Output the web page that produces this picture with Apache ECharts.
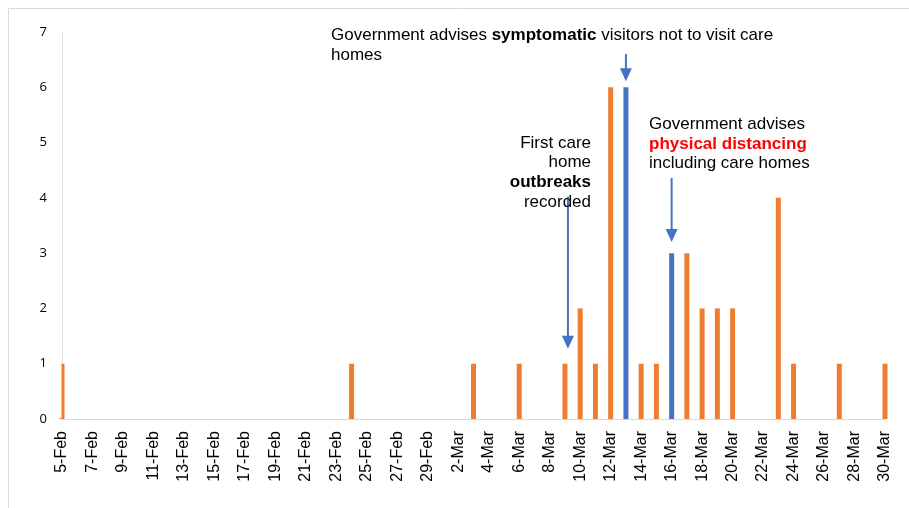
<!DOCTYPE html>
<html>
<head>
<meta charset="utf-8">
<script src="https://cdn.jsdelivr.net/npm/echarts@6/dist/echarts.min.js"></script>
<style>html,body{margin:0;padding:0;background:#fff}#c{width:909px;height:508px}</style>
</head>
<body>
<div id="c"></div>
<script>
const categories = ['5-Feb','6-Feb','7-Feb','8-Feb','9-Feb','10-Feb','11-Feb','12-Feb','13-Feb','14-Feb','15-Feb','16-Feb','17-Feb','18-Feb','19-Feb','20-Feb','21-Feb','22-Feb','23-Feb','24-Feb','25-Feb','26-Feb','27-Feb','28-Feb','29-Feb','1-Mar','2-Mar','3-Mar','4-Mar','5-Mar','6-Mar','7-Mar','8-Mar','9-Mar','10-Mar','11-Mar','12-Mar','13-Mar','14-Mar','15-Mar','16-Mar','17-Mar','18-Mar','19-Mar','20-Mar','21-Mar','22-Mar','23-Mar','24-Mar','25-Mar','26-Mar','27-Mar','28-Mar','29-Mar','30-Mar'];
const orangeValues = [1,0,0,0,0,0,0,0,0,0,0,0,0,0,0,0,0,0,0,1,0,0,0,0,0,0,0,1,0,0,1,0,0,1,2,1,6,0,1,1,0,3,2,2,2,0,0,4,1,0,0,1,0,0,1];
const blueValues   = [0,0,0,0,0,0,0,0,0,0,0,0,0,0,0,0,0,0,0,0,0,0,0,0,0,0,0,0,0,0,0,0,0,0,0,0,0,6,0,0,3,0,0,0,0,0,0,0,0,0,0,0,0,0,0];
const yTicks = [0,1,2,3,4,5,6,7];
// annotation arrows: [category, fromValue, toValue]
const arrows = [['13-Mar', 6.6, 6.11], ['9-Mar', 4.02, 1.27], ['16-Mar', 4.36, 3.2]];

const chart = echarts.init(document.getElementById('c'));
const font = 'Liberation Sans, Arial, sans-serif';
chart.setOption({
  animation: false,
  grid: {left: 62, right: 24, top: 32, bottom: 89},
  xAxis: {
    type: 'category', data: categories, boundaryGap: false,
    axisLine: {lineStyle: {color: '#D9D9D9', width: 1}},
    axisTick: {show: false},
    axisLabel: {interval: 1, rotate: 90, color: '#000', fontFamily: font, fontSize: 16, margin: 12}
  },
  yAxis: {
    type: 'value', min: yTicks[0], max: yTicks[yTicks.length-1], interval: 1,
    axisLine: {show: true, lineStyle: {color: '#E3E3E3', width: 1}},
    axisTick: {show: false},
    splitLine: {show: false},
    axisLabel: {color: '#000', fontFamily: 'Open Sans, sans-serif', fontSize: 13, margin: 15}
  },
  series: [
    {type: 'bar', stack: 's', data: orangeValues, barWidth: 5, itemStyle: {color: '#ED7D31'}},
    {type: 'bar', stack: 's', data: blueValues, barWidth: 5, itemStyle: {color: '#4472C4'}}
  ]
});

const g = [];
g.push({type: 'rect', shape: {x: 8.5, y: 8.5, width: 1000, height: 600}, style: {fill: null, stroke: '#D9D9D9', lineWidth: 1}, z: 0});
// mask the half of the first bar that falls left of the plot area
const o = chart.convertToPixel({xAxisIndex: 0, yAxisIndex: 0}, [categories[0], 0]);
g.push({type: 'rect', shape: {x: o[0] - 10, y: o[1] - 60, width: 9.5, height: 59}, style: {fill: '#fff'}, z: 100});
arrows.forEach(a => {
  const p1 = chart.convertToPixel({xAxisIndex: 0, yAxisIndex: 0}, [a[0], a[1]]);
  const p2 = chart.convertToPixel({xAxisIndex: 0, yAxisIndex: 0}, [a[0], a[2]]);
  const x = a[0] === '9-Mar' ? p1[0] + 3 : p1[0];
  g.push({type: 'line', shape: {x1: x, y1: p1[1], x2: x, y2: p2[1] - 10}, style: {stroke: '#4472C4', lineWidth: 2}, z: 10});
  g.push({type: 'polygon', shape: {points: [[x - 6, p2[1] - 13], [x + 6, p2[1] - 13], [x, p2[1]]]}, style: {fill: '#4472C4'}, z: 10});
});
const base = {fontFamily: font, fontSize: 17, fill: '#000'};
const bold = {fontWeight: 'bold', fontFamily: font, fontSize: 17};
g.push({type: 'text', left: 331, top: 25, z: 20, style: Object.assign({}, base, {
  text: 'Government advises {b|symptomatic} visitors not to visit care\nhomes', lineHeight: 20,
  rich: {b: bold}
})});
const fc = [['First care', false], ['home', false], ['outbreaks', true], ['recorded', false]];
fc.forEach((l, i) => {
  g.push({type: 'text', z: 20, x: 591, y: 143 + i * 19.8, style: Object.assign({}, base, {
    text: l[0], align: 'right', verticalAlign: 'middle', fontWeight: l[1] ? 'bold' : 'normal'
  })});
});
g.push({type: 'text', left: 649, top: 115, z: 20, style: Object.assign({}, base, {
  text: 'Government advises\n{r|physical distancing}\nincluding care homes', lineHeight: 19.5,
  rich: {r: Object.assign({}, bold, {fill: '#FF0000'})}
})});
chart.setOption({graphic: g});
</script>
</body>
</html>
